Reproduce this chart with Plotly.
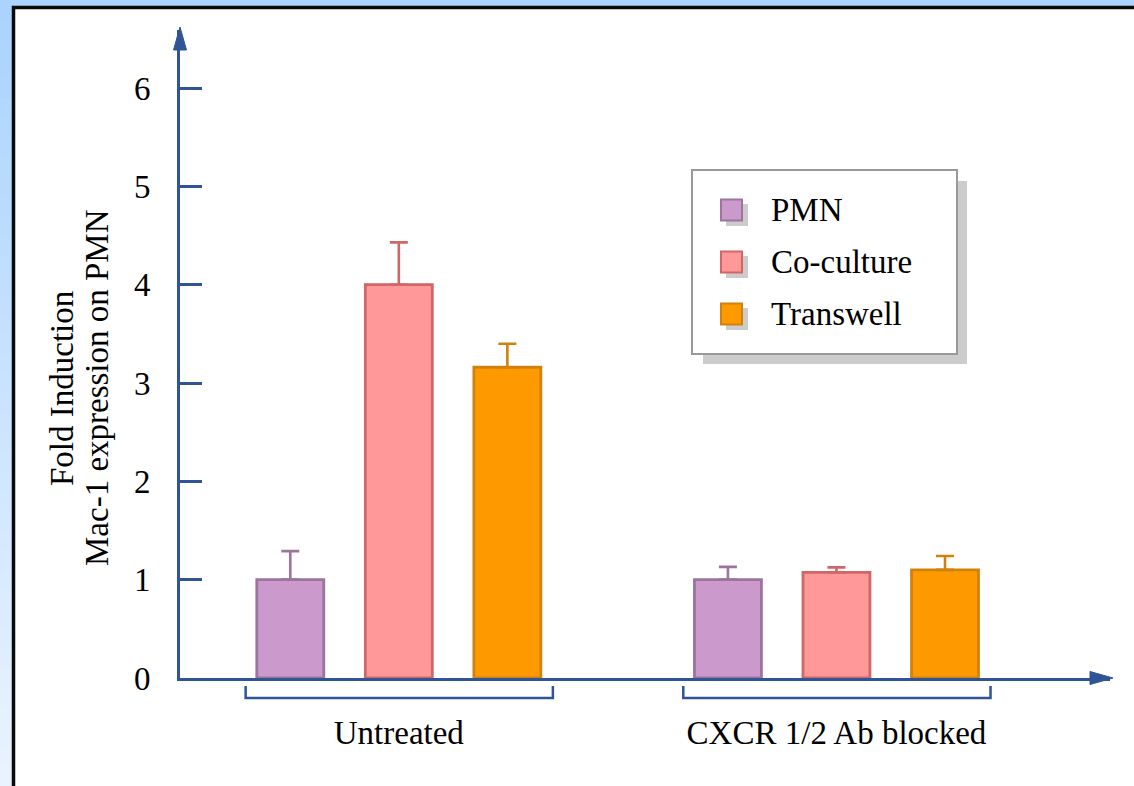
import plotly.graph_objects as go

# ---- data ----
groups = ["Untreated", "CXCR 1/2 Ab blocked"]
series_names = ["PMN", "Co-culture", "Transwell"]
pmn = [1.00, 1.00]
coculture = [4.00, 1.075]
transwell = [3.16, 1.10]
pmn_err = [0.29, 0.13]
coculture_err = [0.43, 0.05]
transwell_err = [0.24, 0.14]
y_ticks = [0, 1, 2, 3, 4, 5, 6]
y_title_lines = ["Fold Induction", "Mac-1 expression on PMN"]

values = [pmn, coculture, transwell]
errors = [pmn_err, coculture_err, transwell_err]
fills = ["#cc99cc", "#ff9999", "#ff9900"]
edges = ["#9c749c", "#d16666", "#cf820f"]

AXIS = "#2f5597"
FONT = "Liberation Serif"
FS = 33

W, H = 1134, 786
L, R, T, B = 180, 1110, 30, 678   # plot area in pixels


def px(x):
    return (x - L) / (R - L)


def py(y):
    return (B - y) / (B - T)


fig = go.Figure()
for name, vals, errs, fc, ec in zip(series_names, values, errors, fills, edges):
    fig.add_trace(go.Bar(
        name=name, x=groups, y=vals, showlegend=False,
        marker=dict(color=fc, line=dict(color=ec, width=2.8)),
        error_y=dict(type="data", array=errs, arrayminus=[0] * len(errs),
                     symmetric=False, color=ec, thickness=2.6, width=9),
    ))

shapes = []
# light blue frame with a soft vertical fade on the left edge
steps = 40
c_top = (171, 211, 253)
c_bot = (233, 243, 254)
for i in range(steps):
    t = i / (steps - 1)
    col = "rgb({},{},{})".format(*[round(a + (b - a) * t) for a, b in zip(c_top, c_bot)])
    y0 = H * i / steps
    y1 = H * (i + 1) / steps + 1
    shapes.append(dict(type="rect", xref="paper", yref="paper", layer="below",
                       x0=px(-2), x1=px(14), y0=py(y1), y1=py(y0),
                       fillcolor=col, line=dict(width=0)))
# white panel with black border
shapes.append(dict(type="rect", xref="paper", yref="paper", layer="below",
                   x0=px(13.5), x1=px(1145), y0=py(800), y1=py(7.5),
                   fillcolor="white", line=dict(color="#0a0a0a", width=3.5)))

# axis arrowheads
shapes.append(dict(type="path", xref="paper", yref="paper",
                   path="M {} {} L {} {} L {} {} Z".format(
                       px(180), py(27), px(173.5), py(50), px(186.5), py(50)),
                   fillcolor=AXIS, line=dict(color=AXIS, width=1)))
shapes.append(dict(type="path", xref="paper", yref="paper",
                   path="M {} {} L {} {} L {} {} Z".format(
                       px(1113), py(678), px(1090), py(671.5), px(1090), py(684.5)),
                   fillcolor=AXIS, line=dict(color=AXIS, width=1)))

# group brackets beneath the x axis
for gi in range(len(groups)):
    a, b = gi - 0.35, gi + 0.352
    shapes.append(dict(type="path", xref="x", yref="paper",
                       path="M {} {} L {} {} L {} {} L {} {}".format(
                           a, py(686), a, py(698), b, py(698), b, py(686)),
                       line=dict(color=AXIS, width=2.5)))

# legend box with drop shadow
shapes.append(dict(type="rect", xref="paper", yref="paper",
                   x0=px(703), x1=px(967), y0=py(364), y1=py(181),
                   fillcolor="#cccccc", line=dict(width=0)))
shapes.append(dict(type="rect", xref="paper", yref="paper",
                   x0=px(692), x1=px(957), y0=py(354), y1=py(170),
                   fillcolor="white", line=dict(color="#999999", width=2)))

annotations = []
row_y = [210, 262, 314]
for name, fc, ec, yc in zip(series_names, fills, edges, row_y):
    shapes.append(dict(type="rect", xref="paper", yref="paper",
                       x0=px(726), x1=px(748), y0=py(yc + 16), y1=py(yc - 6),
                       fillcolor="#cccccc", line=dict(width=0)))
    shapes.append(dict(type="rect", xref="paper", yref="paper",
                       x0=px(721), x1=px(742), y0=py(yc + 10.5), y1=py(yc - 10.5),
                       fillcolor=fc, line=dict(color=ec, width=2)))
    annotations.append(dict(xref="paper", yref="paper", x=px(769), y=py(yc),
                            xanchor="left", yanchor="middle", showarrow=False,
                            text=name, font=dict(family=FONT, size=FS, color="black")))

# two-line y axis title
for text, xc in zip(y_title_lines, [62, 97]):
    annotations.append(dict(xref="paper", yref="paper", x=px(xc), y=py(388),
                            xanchor="center", yanchor="middle", showarrow=False,
                            textangle=-90, text=text,
                            font=dict(family=FONT, size=FS, color="black")))

fig.update_layout(
    width=W, height=H, autosize=False,
    margin=dict(l=L, r=W - R, t=T, b=H - B, pad=0),
    paper_bgcolor="#acd4fc", plot_bgcolor="rgba(0,0,0,0)",
    barmode="group", bargap=0.256, bargroupgap=0.383,
    shapes=shapes, annotations=annotations,
    showlegend=False,
    xaxis=dict(type="category", categoryorder="array", categoryarray=groups,
               range=[-0.5, 1.625], showline=True, linewidth=3, linecolor=AXIS,
               ticks="", showgrid=False, zeroline=False, ticklabelstandoff=23,
               tickfont=dict(family=FONT, size=FS, color="black")),
    yaxis=dict(range=[0, 6.59], tickvals=y_ticks, ticks="inside", ticklen=22,
               tickwidth=3, tickcolor=AXIS, showline=True, linewidth=3,
               linecolor=AXIS, showgrid=False, zeroline=False,
               ticklabelstandoff=20,
               tickfont=dict(family=FONT, size=FS, color="black")),
)

fig.write_html("out.html")
